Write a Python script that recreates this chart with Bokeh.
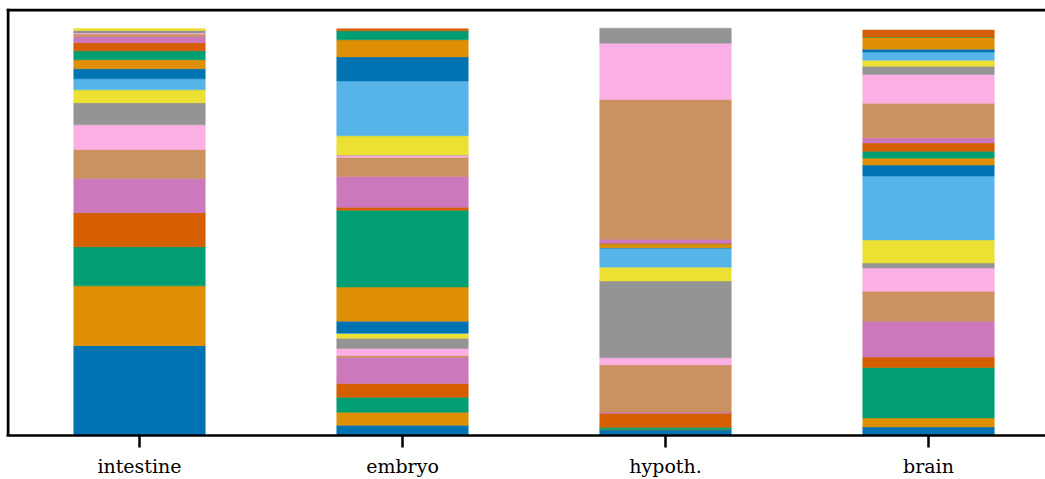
import numpy as np
from bokeh.plotting import figure
from bokeh.models import ColumnDataSource, Range1d, FixedTicker, Span
from bokeh.embed import file_html
from bokeh.resources import INLINE

# Sample names (one stacked bar each)
samples = ["intestine", "embryo", "hypoth.", "brain"]

# Share of each component (%) per sample, listed from the bottom of the bar upward
intestine = [22.1, 14.7, 9.6, 8.4, 8.4, 7.1, 6.1, 5.4, 3.2, 2.7,
             2.5, 2.2, 2.2, 2.0, 1.5, 0.6, 0.3, 0.6, 0.5]
embryo = [2.5, 3.2, 3.7, 3.4, 6.4, 0.5, 1.7, 2.5, 1.2, 0.1,
          2.9, 8.4, 18.9, 0.7, 7.6, 4.7, 0.5, 0.1, 4.7, 13.5,
          5.9, 4.2, 2.2, 0.5]
hypoth = [1.4, 0.1, 0.5, 3.5, 0.3, 11.6, 1.7, 18.9, 3.4, 4.7,
          0.05, 1.0, 0.05, 0.05, 1.0, 34.4, 13.8, 3.7]
brain = [2.1, 2.2, 12.4, 2.6, 8.8, 7.4, 5.7, 1.2, 5.7, 15.7,
         2.7, 1.7, 1.7, 2.0, 1.3, 8.5, 7.1, 2.0, 1.5, 2.0,
         0.7, 2.9, 0.1, 1.7]

# Colour cycle applied to consecutive segments of every bar
palette = ["#0173b2", "#de8f05", "#029e73", "#d55e00", "#cc78bc",
           "#ca9161", "#fbafe4", "#949494", "#ece133", "#56b4e9"]

shares = [intestine, embryo, hypoth, brain]

xs, bottoms, tops, colors = [], [], [], []
for i, vals in enumerate(shares):
    vals = np.asarray(vals, dtype=float)
    top = np.cumsum(vals)
    bottom = top - vals
    for k in range(len(vals)):
        xs.append(i)
        bottoms.append(bottom[k])
        tops.append(top[k])
        colors.append(palette[k % len(palette)])

source = ColumnDataSource(dict(x=xs, bottom=bottoms, top=tops, color=colors))

# Frame geometry in pixels
W, H = 1045, 479
left_px, top_px, bottom_px = 6, 8, 43
slot_px = 263.0                     # distance between neighbouring bars
frame_w = W - left_px
frame_h = H - top_px - bottom_px
x_start = -(139 - left_px) / slot_px
x_end = x_start + frame_w / slot_px
y_top = 105.0

p = figure(width=W, height=H, output_backend="svg", toolbar_location=None,
           x_range=Range1d(x_start, x_end), y_range=Range1d(0, y_top),
           y_axis_location=None, min_border_left=left_px, min_border_right=0,
           min_border_top=top_px, min_border_bottom=bottom_px)

# Thin stroke in the fill colour closes the anti-aliasing seams between segments
p.vbar(x="x", width=0.5, bottom="bottom", top="top", fill_color="color",
       line_color="color", line_width=0.5, source=source)

p.grid.visible = False
p.outline_line_color = None
p.background_fill_color = "white"
p.border_fill_color = "white"

# Top and left frame lines, kept just inside the frame so they are not clipped
lw = 3
p.add_layout(Span(location=y_top - (lw / 2) * y_top / frame_h, dimension="width",
                  line_color="black", line_width=lw))
p.add_layout(Span(location=x_start + (lw / 2) / slot_px, dimension="height",
                  line_color="black", line_width=lw))

ax = p.xaxis[0]
ax.ticker = FixedTicker(ticks=list(range(len(samples))))
ax.major_label_overrides = {i: s for i, s in enumerate(samples)}
ax.axis_line_color = "black"
ax.axis_line_width = 2.5
ax.major_tick_line_color = "black"
ax.major_tick_line_width = 2.5
ax.major_tick_in = 0
ax.major_tick_out = 12
ax.minor_tick_line_color = None
ax.major_label_standoff = 7
ax.major_label_text_font = "DejaVu Serif"
ax.major_label_text_font_size = "19px"
ax.major_label_text_color = "black"

open("out.html", "w").write(file_html(p, INLINE))
